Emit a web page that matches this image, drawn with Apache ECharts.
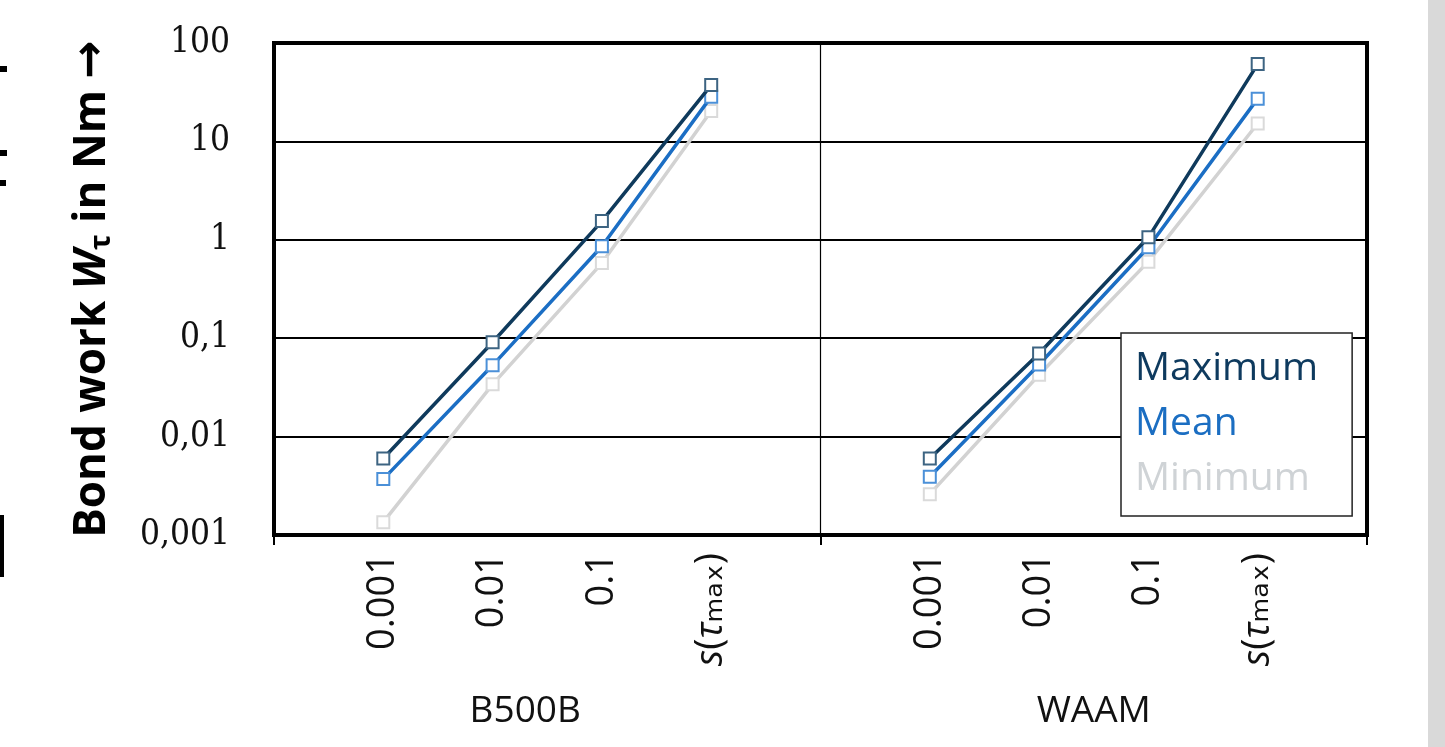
<!DOCTYPE html>
<html>
<head>
<meta charset="utf-8">
<script src="https://cdn.jsdelivr.net/npm/echarts@6/dist/echarts.min.js"></script>
<style>
html,body{margin:0;padding:0;background:#fff;}
#chart{width:1445px;height:747px;}
</style>
</head>
<body>
<div id="chart"></div>
<script>
// ---- data ----
const categories = ['', '0.001', '0.01', '0.1', 's(τmax)', '', '0.001', '0.01', '0.1', 's(τmax)', ''];
const groups = ['B500B', 'WAAM'];
const seriesNames = ['Maximum', 'Mean', 'Minimum'];
const maximum = [null, 0.0060, 0.091, 1.55, 37.4, null, 0.0060, 0.070, 1.06, 61, null];
const mean    = [null, 0.0037, 0.053, 0.86, 28.5, null, 0.0039, 0.054, 0.84, 27.2, null];
const minimum = [null, 0.00135, 0.034, 0.58, 20.4, null, 0.0026, 0.0425, 0.60, 15.2, null];
const yMin = 0.001, yMax = 100;

const lineColors = ['#0f3a5c', '#1b6ec4', '#d2d2d2'];
const markerBorders = ['#3d6482', '#4b90d8', '#dadada'];
const legendColors = ['#0e3a5e', '#1b6ec2', '#cfd3d6'];
const values = [maximum, mean, minimum];

const chart = echarts.init(document.getElementById('chart'));

const sansFont = "'Open Sans', 'Noto Sans', sans-serif";

const option = {
  backgroundColor: '#ffffff',
  animation: false,
  grid: {
    left: 274, top: 43, width: 1093, height: 492,
    show: true, borderColor: '#000', borderWidth: 4, backgroundColor: 'transparent',
    outerBoundsMode: 'none'
  },
  legend: {
    show: true,
    orient: 'vertical',
    left: 1121, top: 333,
    padding: [8, 34, 10, 8],
    itemGap: 0, itemWidth: 0, itemHeight: 0,
    backgroundColor: '#fff', borderColor: '#222', borderWidth: 1.5,
    selectedMode: false,
    data: seriesNames.map((n, i) => ({ name: n, icon: 'rect', textStyle: { color: legendColors[i] } })),
    textStyle: { fontFamily: sansFont, fontSize: 39, lineHeight: 55 }
  },
  xAxis: [
    {
      type: 'category',
      data: categories,
      boundaryGap: false,
      axisLine: { show: true, lineStyle: { color: '#000', width: 4 } },
      axisTick: { show: false },
      splitLine: { show: false },
      axisLabel: {
        interval: 0, rotate: 90, margin: 18,
        color: '#111', fontFamily: sansFont, fontSize: 38,
        formatter: function (v) {
          if (v.indexOf('max') >= 0) return '{i|s}{n|(}{i|τ}{m|\u2098\u2090\u2093}{n|)}';
          return v;
        },
        rich: {
          i: { fontFamily: sansFont, fontSize: 38, fontStyle: 'italic', color: '#111' },
          n: { fontFamily: sansFont, fontSize: 38, color: '#111' },
          m: { fontFamily: "'DejaVu Sans', sans-serif", fontSize: 40, color: '#111' }
        }
      }
    },
    {
      type: 'category',
      data: groups,
      position: 'bottom',
      boundaryGap: true,
      axisLine: { show: false },
      axisTick: { show: true, length: 10, lineStyle: { color: '#000', width: 2 } },
      splitLine: { show: true, lineStyle: { color: '#000', width: 1.2 } },
      axisLabel: {
        interval: 0, margin: 158,
        color: '#111', fontFamily: sansFont, fontSize: 37,
        formatter: function (v, idx) { return idx === 0 ? '{a|' + v + '}' : '{b|' + v + '}'; },
        rich: {
          a: { fontFamily: sansFont, fontSize: 37, color: '#111', padding: [0, 44, 0, 0] },
          b: { fontFamily: sansFont, fontSize: 37, color: '#111' }
        }
      }
    }
  ],
  yAxis: {
    type: 'log',
    logBase: 10,
    min: yMin, max: yMax,
    axisLine: { show: true, lineStyle: { color: '#000', width: 4 } },
    axisTick: { show: false },
    splitLine: { show: true, lineStyle: { color: '#000', width: 2 } },
    axisLabel: {
      margin: 44,
      color: '#111',
      fontFamily: "'DejaVu Serif Condensed', 'DejaVu Serif', serif",
      fontSize: 35,
      formatter: function (v) { return String(Number(v.toPrecision(6))).replace('.', ','); }
    },
    name: '{b|Bond work }{w|W}{s|τ}{b| in Nm }{ar|→}',
    nameLocation: 'middle',
    nameRotate: 90,
    nameGap: 158,
    nameTextStyle: {
      rich: {
        b: { fontFamily: sansFont, fontWeight: 'bold', fontSize: 44, color: '#000' },
        w: { fontFamily: sansFont, fontWeight: 'bold', fontStyle: 'italic', fontSize: 44, color: '#000' },
        s: { fontFamily: sansFont, fontWeight: 'bold', fontSize: 29, color: '#000', padding: [18, 0, 0, 0] },
        ar: { fontFamily: "'DejaVu Sans', sans-serif", fontWeight: 'bold', fontSize: 46, color: '#000' }
      }
    }
  },
  series: seriesNames.map((n, i) => ({
    name: n,
    type: 'line',
    xAxisIndex: 0,
    data: values[i],
    connectNulls: false,
    symbol: 'rect',
    symbolSize: 12,
    showSymbol: true,
    z: 10 - i,
    lineStyle: { color: lineColors[i], width: 3.5 },
    itemStyle: { color: '#fff', borderColor: markerBorders[i], borderWidth: 2 }
  })),
  graphic: [
    { type: 'rect', shape: { x: 1428, y: 0, width: 17, height: 747 }, style: { fill: '#d9d9d9' }, silent: true },
    { type: 'rect', shape: { x: 0, y: 66, width: 7, height: 6 }, style: { fill: '#000' }, silent: true },
    { type: 'rect', shape: { x: 0, y: 150, width: 7, height: 6 }, style: { fill: '#000' }, silent: true },
    { type: 'rect', shape: { x: 0, y: 180, width: 6, height: 6 }, style: { fill: '#000' }, silent: true },
    { type: 'rect', shape: { x: 0, y: 515, width: 4, height: 62 }, style: { fill: '#000' }, silent: true }
  ]
};

chart.setOption(option);
</script>
</body>
</html>
